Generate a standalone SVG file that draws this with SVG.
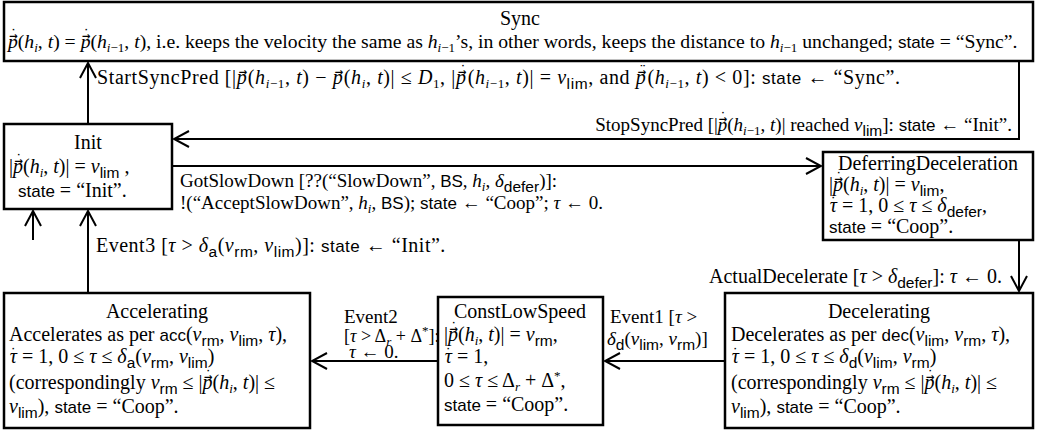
<svg xmlns="http://www.w3.org/2000/svg" width="1041" height="434" viewBox="0 0 1041 434">
<style>
.box{fill:#fff;stroke:#000;stroke-width:2.5}
.c{fill:none;stroke:#000;stroke-width:2}
text{font-family:'Liberation Serif','Times New Roman','DejaVu Serif',serif;font-size:20px;fill:#000}
.sm{font-size:19px}
.xs{font-size:18px}
.i{font-style:italic}
.s{font-family:'Liberation Sans',Arial,sans-serif;font-size:17px;font-style:normal}
.sub{font-size:13px;baseline-shift:-4px}
.ss{font-family:'Liberation Sans',Arial,sans-serif;font-size:15.5px;baseline-shift:-5px;font-style:normal}
.sup{font-size:13px;baseline-shift:7px}
.a{font-family:'DejaVu Sans Mono',monospace;font-size:14px;font-style:normal}
.m{text-anchor:middle}
</style>
<defs>
<marker id="ah" markerUnits="userSpaceOnUse" markerWidth="18" markerHeight="20" refX="16" refY="10" orient="auto">
<path d="M1,2 L16,10 L1,18" fill="none" stroke="#000" stroke-width="2"/>
</marker>
</defs>

<g id="connectors">
<path class="c" d="M88,124 V63" marker-end="url(#ah)"/>
<path class="c" d="M1019,61 V139 H174" marker-end="url(#ah)"/>
<path class="c" d="M172,166 H821" marker-end="url(#ah)"/>
<path class="c" d="M1019,240 V291" marker-end="url(#ah)"/>
<path class="c" d="M725,361 H605" marker-end="url(#ah)"/>
<path class="c" d="M438,361 H312" marker-end="url(#ah)"/>
<path class="c" d="M88,293 V211" marker-end="url(#ah)"/>
<path class="c" d="M33,240 V211" marker-end="url(#ah)"/>
<text x="97" y="84" letter-spacing="0.6">StartSyncPred [|<tspan class="i">p</tspan><tspan class="a" dx="-8.5" dy="-8">→</tspan><tspan dy="8">(</tspan><tspan class="i">h</tspan><tspan class="sub"><tspan class="i">i</tspan>−1</tspan>, <tspan class="i">t</tspan>) − <tspan class="i">p</tspan><tspan class="a" dx="-8.5" dy="-8">→</tspan><tspan dy="8">(</tspan><tspan class="i">h</tspan><tspan class="i sub">i</tspan>, <tspan class="i">t</tspan>)| ≤ <tspan class="i">D</tspan><tspan class="sub">1</tspan>, |<tspan class="i">p</tspan><tspan class="a" dx="-8.5" dy="-8">→</tspan><tspan class="a" dx="-8.43">˙</tspan><tspan dy="8">(</tspan><tspan class="i">h</tspan><tspan class="sub"><tspan class="i">i</tspan>−1</tspan>, <tspan class="i">t</tspan>)| = <tspan class="i">v</tspan><tspan class="ss">lim</tspan>, and <tspan class="i">p</tspan><tspan class="a" dx="-8.5" dy="-8">→</tspan><tspan class="a" dx="-8.43">¨</tspan><tspan dy="8">(</tspan><tspan class="i">h</tspan><tspan class="sub"><tspan class="i">i</tspan>−1</tspan>, <tspan class="i">t</tspan>) &lt; 0]: <tspan class="s">state</tspan> ← “Sync”.</text>
<text x="1012" y="131" text-anchor="end" class="sm">StopSyncPred [|<tspan class="i">p</tspan><tspan class="a" dx="-8.5" dy="-8">→</tspan><tspan class="a" dx="-8.43">˙</tspan><tspan dy="8">(</tspan><tspan class="i">h</tspan><tspan class="sub"><tspan class="i">i</tspan>−1</tspan>, <tspan class="i">t</tspan>)| reached <tspan class="i">v</tspan><tspan class="ss">lim</tspan>]: <tspan class="s">state</tspan> ← “Init”.</text>
<text x="180" y="187" class="sm">GotSlowDown [??(“SlowDown”, <tspan class="s">BS</tspan>, <tspan class="i">h</tspan><tspan class="i sub">i</tspan>, <tspan class="i">δ</tspan><tspan class="ss">defer</tspan>)]:</text>
<text x="180" y="209" class="sm">!(“AcceptSlowDown”, <tspan class="i">h</tspan><tspan class="i sub">i</tspan>, <tspan class="s">BS</tspan>); <tspan class="s">state</tspan> ← “Coop”; <tspan class="i">τ</tspan> ← 0.</text>
<text x="96" y="252" letter-spacing="0.5">Event3 [<tspan class="i">τ</tspan> &gt; <tspan class="i">δ</tspan><tspan class="ss">a</tspan>(<tspan class="i">v</tspan><tspan class="ss">rm</tspan>, <tspan class="i">v</tspan><tspan class="ss">lim</tspan>)]: <tspan class="s">state</tspan> ← “Init”.</text>
<text x="709" y="283">ActualDecelerate [<tspan class="i">τ</tspan> &gt; <tspan class="i">δ</tspan><tspan class="ss">defer</tspan>]: <tspan class="i">τ</tspan> ← 0.</text>
<text x="610" y="323" class="sm">Event1 [<tspan class="i">τ</tspan> &gt;</text>
<text x="607" y="345" class="sm"><tspan class="i">δ</tspan><tspan class="ss">d</tspan>(<tspan class="i">v</tspan><tspan class="ss">lim</tspan>, <tspan class="i">v</tspan><tspan class="ss">rm</tspan>)]</text>
<text x="344" y="323" class="sm">Event2</text>
<text x="344" y="342" class="xs">[<tspan class="i">τ</tspan> &gt; Δ<tspan class="i sub">r</tspan> + Δ<tspan class="sup">*</tspan>]:</text>
<text x="349" y="358" class="sm"><tspan class="i">τ</tspan> ← 0.</text>
</g>

<g id="sync">
<rect class="box" x="4" y="2" width="1029" height="59"/>
<text class="m" x="520" y="25">Sync</text>
<text x="8" y="48" style="font-size:19.7px"><tspan class="i">p</tspan><tspan class="a" dx="-8.5" dy="-8">→</tspan><tspan class="a" dx="-8.43">˙</tspan><tspan dy="8">(</tspan><tspan class="i">h</tspan><tspan class="i sub">i</tspan>, <tspan class="i">t</tspan>) = <tspan class="i">p</tspan><tspan class="a" dx="-8.5" dy="-8">→</tspan><tspan class="a" dx="-8.43">˙</tspan><tspan dy="8">(</tspan><tspan class="i">h</tspan><tspan class="sub"><tspan class="i">i</tspan>−1</tspan>, <tspan class="i">t</tspan>), i.e. keeps the velocity the same as <tspan class="i">h</tspan><tspan class="sub"><tspan class="i">i</tspan>−1</tspan>’s, in other words, keeps the distance to <tspan class="i">h</tspan><tspan class="sub"><tspan class="i">i</tspan>−1</tspan> unchanged; <tspan class="s">state</tspan> = “Sync”.</text>
</g>

<g id="init">
<rect class="box" x="4" y="124" width="168" height="85"/>
<text class="m" x="88" y="149">Init</text>
<text x="9" y="173">|<tspan class="i">p</tspan><tspan class="a" dx="-8.5" dy="-8">→</tspan><tspan class="a" dx="-8.43">˙</tspan><tspan dy="8">(</tspan><tspan class="i">h</tspan><tspan class="i sub">i</tspan>, <tspan class="i">t</tspan>)| = <tspan class="i">v</tspan><tspan class="ss">lim</tspan> ,</text>
<text x="18" y="197"><tspan class="s">state</tspan> = “Init”.</text>
</g>

<g id="deferring">
<rect class="box" x="823" y="152" width="210" height="88"/>
<text class="m" x="928" y="170">DeferringDeceleration</text>
<text x="829" y="191">|<tspan class="i">p</tspan><tspan class="a" dx="-8.5" dy="-8">→</tspan><tspan class="a" dx="-8.43">˙</tspan><tspan dy="8">(</tspan><tspan class="i">h</tspan><tspan class="i sub">i</tspan>, <tspan class="i">t</tspan>)| = <tspan class="i">v</tspan><tspan class="ss">lim</tspan>,</text>
<text x="829" y="212"><tspan class="i">τ</tspan><tspan class="a" dx="-8" dy="-4">˙</tspan><tspan dy="4" dx="-0.5"> = 1, 0 ≤ </tspan><tspan class="i">τ</tspan> ≤ <tspan class="i">δ</tspan><tspan class="ss">defer</tspan>,</text>
<text x="829" y="233"><tspan class="s">state</tspan> = “Coop”.</text>
</g>

<g id="decelerating">
<rect class="box" x="725" y="293" width="308" height="135"/>
<text class="m" x="879" y="318">Decelerating</text>
<text x="731" y="341">Decelerates as per <tspan class="s">dec</tspan>(<tspan class="i">v</tspan><tspan class="ss">lim</tspan>, <tspan class="i">v</tspan><tspan class="ss">rm</tspan>, <tspan class="i">τ</tspan>),</text>
<text x="731" y="363"><tspan class="i">τ</tspan><tspan class="a" dx="-8" dy="-4">˙</tspan><tspan dy="4" dx="-0.5"> = 1, 0 ≤ </tspan><tspan class="i">τ</tspan> ≤ <tspan class="i">δ</tspan><tspan class="ss">d</tspan>(<tspan class="i">v</tspan><tspan class="ss">lim</tspan>, <tspan class="i">v</tspan><tspan class="ss">rm</tspan>)</text>
<text x="731" y="389">(correspondingly <tspan class="i">v</tspan><tspan class="ss">rm</tspan> ≤ |<tspan class="i">p</tspan><tspan class="a" dx="-8.5" dy="-8">→</tspan><tspan class="a" dx="-8.43">˙</tspan><tspan dy="8">(</tspan><tspan class="i">h</tspan><tspan class="i sub">i</tspan>, <tspan class="i">t</tspan>)| ≤</text>
<text x="731" y="413"><tspan class="i">v</tspan><tspan class="ss">lim</tspan>), <tspan class="s">state</tspan> = “Coop”.</text>
</g>

<g id="constlowspeed">
<rect class="box" x="438" y="297" width="165" height="128"/>
<text class="m" x="520" y="318">ConstLowSpeed</text>
<text x="444" y="341">|<tspan class="i">p</tspan><tspan class="a" dx="-8.5" dy="-8">→</tspan><tspan class="a" dx="-8.43">˙</tspan><tspan dy="8">(</tspan><tspan class="i">h</tspan><tspan class="i sub">i</tspan>, <tspan class="i">t</tspan>)| = <tspan class="i">v</tspan><tspan class="ss">rm</tspan>,</text>
<text x="444" y="363"><tspan class="i">τ</tspan><tspan class="a" dx="-8" dy="-4">˙</tspan><tspan dy="4" dx="-0.5"> = 1,</tspan></text>
<text x="444" y="387">0 ≤ <tspan class="i">τ</tspan> ≤ Δ<tspan class="i sub">r</tspan> + Δ<tspan class="sup">*</tspan>,</text>
<text x="444" y="411"><tspan class="s">state</tspan> = “Coop”.</text>
</g>

<g id="accelerating">
<rect class="box" x="4" y="293" width="306" height="135"/>
<text class="m" x="157" y="318">Accelerating</text>
<text x="9" y="341">Accelerates as per <tspan class="s">acc</tspan>(<tspan class="i">v</tspan><tspan class="ss">rm</tspan>, <tspan class="i">v</tspan><tspan class="ss">lim</tspan>, <tspan class="i">τ</tspan>),</text>
<text x="9" y="363"><tspan class="i">τ</tspan><tspan class="a" dx="-8" dy="-4">˙</tspan><tspan dy="4" dx="-0.5"> = 1, 0 ≤ </tspan><tspan class="i">τ</tspan> ≤ <tspan class="i">δ</tspan><tspan class="ss">a</tspan>(<tspan class="i">v</tspan><tspan class="ss">rm</tspan>, <tspan class="i">v</tspan><tspan class="ss">lim</tspan>)</text>
<text x="9" y="389">(correspondingly <tspan class="i">v</tspan><tspan class="ss">rm</tspan> ≤ |<tspan class="i">p</tspan><tspan class="a" dx="-8.5" dy="-8">→</tspan><tspan class="a" dx="-8.43">˙</tspan><tspan dy="8">(</tspan><tspan class="i">h</tspan><tspan class="i sub">i</tspan>, <tspan class="i">t</tspan>)| ≤</text>
<text x="9" y="413"><tspan class="i">v</tspan><tspan class="ss">lim</tspan>), <tspan class="s">state</tspan> = “Coop”.</text>
</g>
</svg>
